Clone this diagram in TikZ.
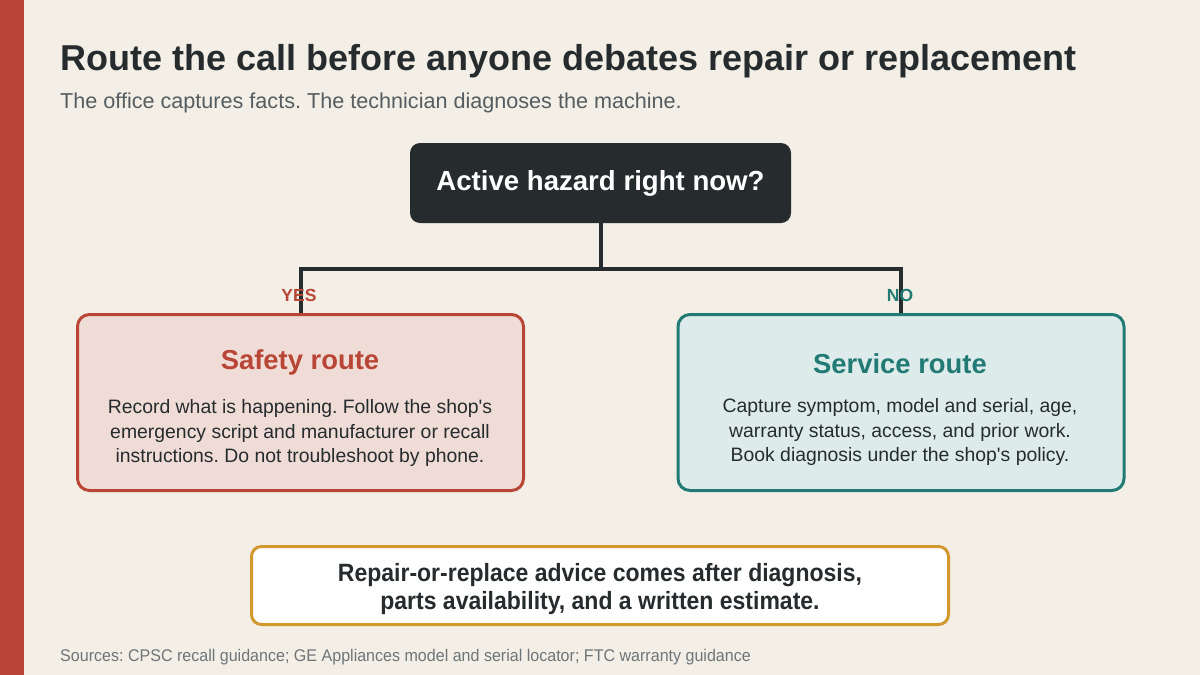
\documentclass[tikz,border=0pt]{standalone}
\usepackage{fontspec}
\setmainfont{Liberation Sans}[Ligatures=TeXOff]
\newfontfamily\narrowfont[FakeStretch=0.92,Ligatures=TeXOff]{Liberation Sans}
\newfontfamily\footfont[FakeStretch=0.95,Ligatures=TeXOff]{Liberation Sans}
\frenchspacing
\usetikzlibrary{positioning}

\definecolor{paper}{HTML}{F3EFE6}
\definecolor{ink}{HTML}{262B2E}
\definecolor{muted}{HTML}{555D60}
\definecolor{brick}{HTML}{B84535}
\definecolor{brickfill}{HTML}{F0DCD6}
\definecolor{teal}{HTML}{217A74}
\definecolor{tealfill}{HTML}{DDECEA}
\definecolor{ochre}{HTML}{D4992E}

\begin{document}
\begin{tikzpicture}[
x=1pt, y=-1pt,
route/.style={rectangle, rounded corners=12pt, line width=3pt, minimum width=446pt, minimum height=176pt, align=center},
wire/.style={line width=4pt, draw=ink},
heading/.style={font=\fontsize{27.4}{30}\selectfont\bfseries},
body/.style={font=\fontsize{19.4}{24.5}\selectfont, text=ink, align=center},
branch/.style={font=\fontsize{17.5}{18}\selectfont\bfseries}
]
% background and side bar
\fill[paper] (0,0) rectangle (1200,675);
\fill[brick] (0,0) rectangle (24,675);
\useasboundingbox (0,0) rectangle (1200,675);

% title block
\node[anchor=base west, inner sep=0, text=ink, font=\fontsize{36}{40}\selectfont\bfseries] (title) at (60,70)
  {Route the call before anyone debates repair or replacement};
\node[anchor=base west, inner sep=0, text=muted, font=\fontsize{21.6}{24}\selectfont] (subtitle) at (60,108)
  {The office captures facts. The technician diagnoses the machine.};

% decision
\node[rectangle, rounded corners=10pt, fill=ink, text=white, minimum width=381pt, minimum height=80pt,
  font=\fontsize{27.6}{30}\selectfont\bfseries] (hazard) at (600.5,183) {Active hazard right now?};

% routes
\node[route, draw=brick, fill=brickfill] (safety) at (300.5,402.5) {};
\node[route, draw=teal, fill=tealfill] (service) at (901,402.5) {};

\node[heading, text=brick] (safetyhead) at (300,362) {Safety route};
\node[body] (safetytext) at (300,433)
  {Record what is happening. Follow the shop's\\emergency script and manufacturer or recall\\instructions. Do not troubleshoot by phone.};
\node[heading, text=teal] (servicehead) at (900,364) {Service route};
\node[body] (servicetext) at (900,432)
  {Capture symptom, model and serial, age,\\warranty status, access, and prior work.\\Book diagnosis under the shop's policy.};

% connectors
\coordinate (split) at (600.5,269);
\draw[wire] (hazard.south) -- (split);
\draw[wire] (split) -| (safety.north);
\draw[wire] (split) -| (service.north);
\node[branch, text=brick] (yes) at (299,295) {YES};
\node[branch, text=teal] (no) at (900,295) {NO};

% outcome
\node[rectangle, rounded corners=10pt, draw=ochre, line width=3pt, fill=white, minimum width=697pt, minimum height=78pt] (advice) at (600,585.5) {};
\node[align=center, text=ink, font=\narrowfont\fontsize{25}{28}\selectfont\bfseries] (advicetext) at (600,589)
  {Repair-or-replace advice comes after diagnosis,\\parts availability, and a written estimate.};

% footer
\node[anchor=base west, inner sep=0, text=muted!85, font=\footfont\fontsize{16.9}{18}\selectfont] (sources) at (60,661)
  {Sources: CPSC recall guidance; GE Appliances model and serial locator; FTC warranty guidance};
\end{tikzpicture}
\end{document}
